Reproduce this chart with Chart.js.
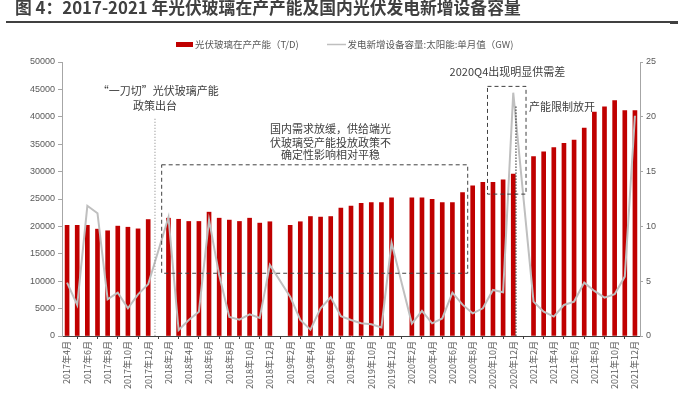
<!DOCTYPE html>
<html>
<head>
<meta charset="utf-8">
<script src="https://cdn.jsdelivr.net/npm/chart.js@4.4.1/dist/chart.umd.min.js"></script>
<style>
  html, body { margin:0; padding:0; background:#fff; width:688px; height:394px; overflow:hidden; }
  #wrap { position:relative; width:688px; height:394px; }
  #title { position:absolute; left:15px; top:-4px; font: bold 16.8px "Noto Sans CJK SC", sans-serif; color:#404040; white-space:nowrap; line-height:22px; }
  #rule { position:absolute; left:6px; top:21px; width:664px; height:1.5px; background:#404040; }
  #ruleEnd { position:absolute; left:670px; top:21px; width:8px; height:2.5px; background:#404040; }
  canvas { position:absolute; left:0; top:0; }
</style>
</head>
<body>
<div id="wrap">
  <canvas id="c" width="688" height="394"></canvas>
  <div id="title">图 4：2017-2021 年光伏玻璃在产产能及国内光伏发电新增设备容量</div>
  <div id="rule"></div>
  <div id="ruleEnd"></div>
</div>
<script>
// ---- data ----
const months = [
  '2017年4月','2017年5月','2017年6月','2017年7月','2017年8月','2017年9月','2017年10月','2017年11月','2017年12月',
  '2018年1月','2018年2月','2018年3月','2018年4月','2018年5月','2018年6月','2018年7月','2018年8月','2018年9月','2018年10月','2018年11月','2018年12月',
  '2019年1月','2019年2月','2019年3月','2019年4月','2019年5月','2019年6月','2019年7月','2019年8月','2019年9月','2019年10月','2019年11月','2019年12月',
  '2020年1月','2020年2月','2020年3月','2020年4月','2020年5月','2020年6月','2020年7月','2020年8月','2020年9月','2020年10月','2020年11月','2020年12月',
  '2021年1月','2021年2月','2021年3月','2021年4月','2021年5月','2021年6月','2021年7月','2021年8月','2021年9月','2021年10月','2021年11月','2021年12月'
];
const glassCapacity = [
  20200,20200,20200,19500,19200,20050,19850,19550,21250,
  null,21500,21300,20900,20900,22600,21500,21150,20900,21500,20600,20850,
  null,20200,20850,21800,21700,21800,23350,23700,24200,24350,24350,25200,
  null,25200,25200,24950,24350,24350,26150,27400,28050,28050,28500,29550,
  null,32750,33600,34400,35150,35750,37950,40850,41800,42950,41150,41150
];
const pvNewMonthly = [
  4.87,2.83,11.88,11.2,3.35,3.96,2.53,3.8,4.72,
  null,10.84,0.55,1.46,2.22,10.6,5.57,1.74,1.49,1.98,1.64,6.49,
  null,3.59,1.46,0.58,2.53,3.53,1.8,1.46,1.16,1.07,0.78,8.5,
  null,1.13,2.3,1.16,1.6,3.96,2.86,2.07,2.53,4.2,3.99,22.2,
  null,3.14,2.22,1.77,2.83,3.14,4.87,4.11,3.5,3.81,5.42,20.1
];
const leftAxis = { min: 0, max: 50000, step: 5000 };
const rightAxis = { min: 0, max: 25, step: 5 };
const seriesNames = ['光伏玻璃在产产能（T/D)', '发电新增设备容量:太阳能:单月值（GW)'];

const CJK = '"Noto Sans CJK SC", sans-serif';

const annot = {
  id: 'annot',
  afterDatasetsDraw(chart) {
    const { ctx, scales: { x, y } } = chart;
    const X = v => x.getPixelForValue(v);
    const Y = v => y.getPixelForValue(v);
    ctx.save();
    // dotted line 1
    ctx.strokeStyle = '#808080'; ctx.lineWidth = 1; ctx.setLineDash([1, 2]);
    ctx.beginPath(); ctx.moveTo(X(8.67), Y(39640)); ctx.lineTo(X(8.67), Y(0)); ctx.stroke();
    // dashed rect 1
    ctx.strokeStyle = '#404040'; ctx.setLineDash([4, 3]);
    ctx.strokeRect(X(9.33), Y(31240), X(39.51) - X(9.33), Y(11450) - Y(31240));
    // dashed rect 2
    ctx.strokeRect(X(41.46), Y(45550), X(45.26) - X(41.46), Y(25890) - Y(45550));
    // dotted line 2
    ctx.strokeStyle = '#202020'; ctx.setLineDash([1.5, 1.5]);
    ctx.beginPath(); ctx.moveTo(X(44.27), Y(41890)); ctx.lineTo(X(44.27), Y(0)); ctx.stroke();
    ctx.setLineDash([]);
    // texts
    ctx.fillStyle = '#404040';
    ctx.font = '11px ' + CJK;
    ctx.textBaseline = 'middle';
    ctx.textAlign = 'center';
    ctx.fillText('“一刀切”光伏玻璃产能', X(9.0), Y(44820));
    ctx.fillText('政策出台', X(8.67), Y(42080));
    ctx.fillText('国内需求放缓，供给端光', X(25.98), Y(37820));
    ctx.fillText('伏玻璃受产能投放政策不', X(25.98), Y(35210));
    ctx.fillText('确定性影响相对平稳', X(25.98), Y(33070));
    ctx.fillText('2020Q4出现明显供需差', X(43.43), Y(48180));
    ctx.textAlign = 'left';
    ctx.fillText('产能限制放开', X(45.55), Y(41890));
    ctx.restore();
  },
  afterDraw(chart) {
    const ctx = chart.ctx;
    ctx.save();
    ctx.fillStyle = '#c00000';
    ctx.fillRect(176, 42, 17, 5);
    ctx.strokeStyle = '#bfbfbf'; ctx.lineWidth = 1.5;
    ctx.beginPath(); ctx.moveTo(327, 44.5); ctx.lineTo(346, 44.5); ctx.stroke();
    ctx.fillStyle = '#595959';
    ctx.font = '9.5px ' + CJK;
    ctx.textBaseline = 'middle';
    ctx.textAlign = 'left';
    ctx.fillText(seriesNames[0], 195, 44.5);
    ctx.fillText(seriesNames[1], 347.5, 44.5);
    ctx.restore();
  }
};

new Chart(document.getElementById('c'), {
  data: {
    labels: months,
    datasets: [
      {
        type: 'line', label: seriesNames[1], data: pvNewMonthly, yAxisID: 'y1',
        borderColor: '#bfbfbf', borderWidth: 2, pointRadius: 0, spanGaps: true,
        tension: 0, order: 0
      },
      {
        type: 'bar', label: seriesNames[0], data: glassCapacity, yAxisID: 'y',
        backgroundColor: '#c00000', barThickness: 4, order: 1
      }
    ]
  },
  options: {
    responsive: false,
    animation: false,
    devicePixelRatio: 1,
    layout: { padding: { top: 62, left: 0, right: 0, bottom: 0 } },
    plugins: { legend: { display: false }, tooltip: { enabled: false } },
    scales: {
      x: {
        type: 'category',
        offset: true,
        grid: { offset: true, drawOnChartArea: false, drawTicks: true, tickLength: 3, color: '#404040' },
        border: { color: '#404040', width: 1 },
        ticks: {
          autoSkip: false, maxRotation: 90, minRotation: 90, padding: 2,
          color: '#595959', font: { size: 9, family: CJK },
          callback: function(val, i) { return i % 2 === 0 ? this.getLabelForValue(val) : null; }
        },
        afterFit(s) { s.height = 58; }
      },
      y: {
        position: 'left', min: leftAxis.min, max: leftAxis.max,
        grid: { drawOnChartArea: false, tickLength: 4, color: '#a6a6a6' },
        border: { color: '#a6a6a6', width: 1 },
        ticks: { stepSize: leftAxis.step, padding: 3, color: '#595959', font: { size: 9, family: 'Liberation Sans' },
                 callback: v => String(v) },
        afterFit(s) { s.width = 62; }
      },
      y1: {
        position: 'right', min: rightAxis.min, max: rightAxis.max,
        grid: { drawOnChartArea: false, tickLength: 3, color: '#a6a6a6' },
        border: { color: '#a6a6a6', width: 1 },
        ticks: { stepSize: rightAxis.step, padding: 3, color: '#595959', font: { size: 9, family: 'Liberation Sans' },
                 callback: v => String(v) },
        afterFit(s) { s.width = 48; }
      }
    }
  },
  plugins: [annot]
});
</script>
</body>
</html>
